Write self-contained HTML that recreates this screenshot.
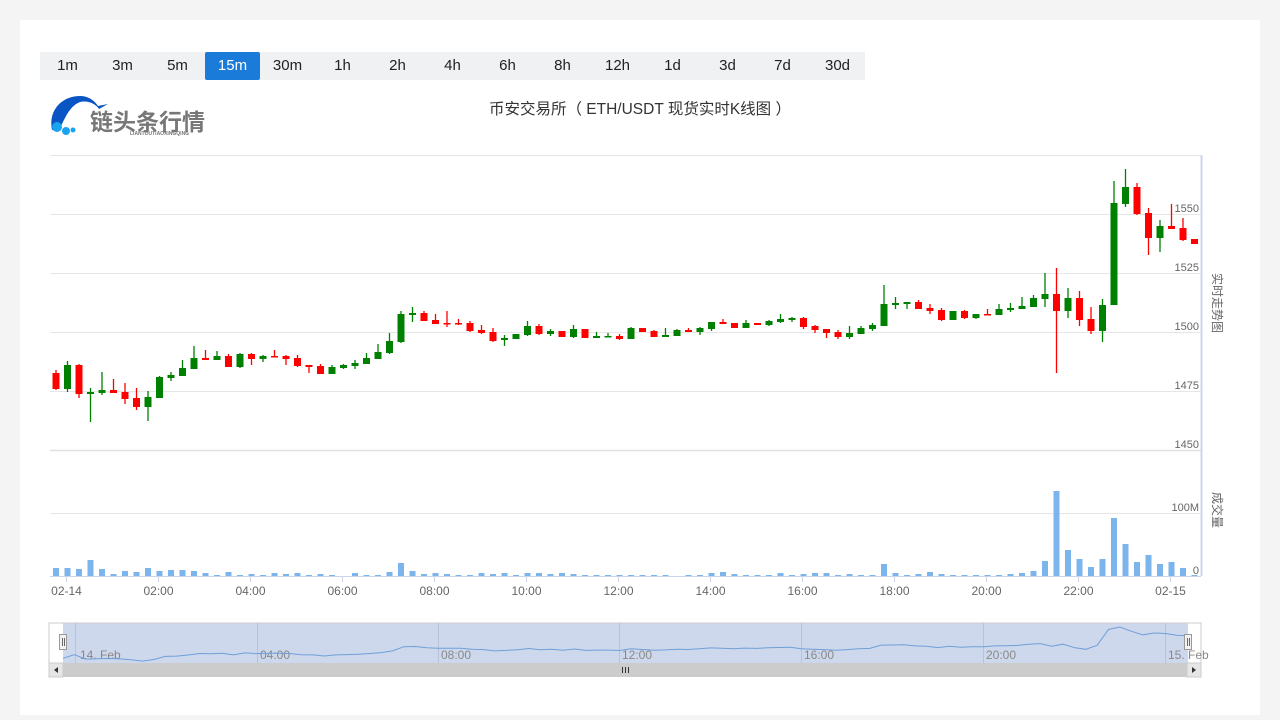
<!DOCTYPE html>
<html><head><meta charset="utf-8">
<style>
body{margin:0;background:#f4f4f4;width:1280px;height:720px;overflow:hidden;font-family:"Liberation Sans","Noto Sans CJK SC",sans-serif;}
#card{position:absolute;left:20px;top:20px;width:1240px;height:695px;background:#fff;}
#tabs{position:absolute;left:40px;top:52px;width:825px;height:28px;background:#f0f1f3;display:flex;}
#tabs div{width:55px;height:28px;line-height:28px;text-align:center;font-size:15px;color:#222;}
#tabs div.on{background:#1a7bd8;color:#fff;border-radius:2px;}
svg{position:absolute;left:0;top:0;}
</style></head><body>
<div id="card"></div>
<div id="tabs"><div>1m</div><div>3m</div><div>5m</div><div class="on">15m</div><div>30m</div><div>1h</div><div>2h</div><div>4h</div><div>6h</div><div>8h</div><div>12h</div><div>1d</div><div>3d</div><div>7d</div><div>30d</div></div>
<svg id="s" width="1280" height="720" xmlns="http://www.w3.org/2000/svg" font-family="Liberation Sans, Noto Sans CJK SC, sans-serif">
<path d="M52,130 C48,110 62,96 80,96 C88,96 94,100 98,106 L108,104 L99,109 C96,104 88,100 80,102 C70,106 66,116 60,128 Z" fill="#0a55c4"/>
<circle cx="57" cy="127" r="5" fill="#1aa3f0"/><circle cx="66" cy="131" r="4" fill="#1aa3f0"/><circle cx="73" cy="130" r="2.5" fill="#1aa3f0"/>
<text x="90" y="130" font-size="23" font-weight="bold" fill="#777" font-family="Noto Sans CJK SC, sans-serif">链头条行情</text>
<text x="130" y="135" font-size="5" fill="#777" font-weight="bold">LIANTOUTIAOXINGQING</text>
<text x="640" y="114" font-size="15.5" fill="#333" text-anchor="middle" font-family="Liberation Sans, Noto Sans CJK SC, sans-serif">币安交易所（ ETH/USDT 现货实时K线图 ）</text>
<g id="g"></g>
</svg>
<script>
var C=[[373,389,370,390],[389,365,361,392],[365,394,364,398],[394,392,388,422],[393,390,372,395],[390,393,379,393],[392,399,383,404],[398,407,388,410],[407,397,391,421],[398,377,376,398],[378,375,372,381],[376,368,360,376],[369,358,346,369],[358,360,350,360],[360,356,351,360],[356,367,354,367],[367,354,353,368],[354,359,353,365],[359,356,355,362],[356,357,350,357],[356,359,355,365],[358,366,355,367],[365,367,365,373],[366,374,364,374],[374,367,365,374],[368,365,364,369],[366,363,360,369],[364,358,353,364],[359,352,344,359],[353,341,333,354],[342,314,311,343],[315,313,307,322],[313,321,311,321],[320,324,314,324],[323,324,311,327],[323,324,319,325],[323,331,321,332],[330,333,325,334],[332,341,328,342],[340,338,335,346],[339,334,334,339],[335,326,321,336],[326,334,324,335],[334,331,329,336],[331,337,331,337],[337,329,325,338],[329,338,329,338],[338,336,332,338],[337,336,333,337],[336,339,334,340],[339,328,327,339],[328,332,328,332],[331,337,330,337],[337,335,328,337],[336,330,329,336],[330,332,328,332],[332,328,327,335],[329,322,322,331],[322,324,319,324],[323,328,323,328],[328,323,320,328],[323,325,323,325],[325,321,320,326],[322,319,314,323],[320,318,317,322],[318,327,317,329],[326,330,325,333],[329,333,329,338],[332,337,330,339],[337,333,326,339],[334,328,326,334],[329,325,323,331],[326,304,285,326],[305,303,297,309],[304,302,302,309],[302,309,300,309],[308,311,304,314],[310,320,308,321],[320,311,311,320],[311,318,310,319],[318,314,314,319],[314,315,309,315],[315,309,304,315],[310,308,303,312],[309,306,297,309],[307,298,295,307],[299,294,273,307],[294,311,268,373],[311,298,288,318],[298,320,291,326],[319,331,307,334],[331,305,299,342],[305,203,181,305],[204,187,169,207],[187,214,183,215],[213,238,208,255],[238,226,220,252],[226,229,204,229],[228,240,218,241],[239,244,239,244]];
var V=[8,8,7,16,7,2,5,4,8,5,6,6,5,3,1,4,1,2,1,3,2,3,1,2,1,0,3,1,1,4,13,5,2,3,2,1,1,3,2,3,1,3,3,2,3,2,1,1,1,1,1,1,1,1,0,1,1,3,4,2,1,1,1,3,1,2,3,3,1,2,1,1,12,3,1,2,4,2,1,1,1,1,1,2,3,5,15,85,26,17,9,17,58,32,14,21,12,14,8,1];
var h='';
function L(x1,y1,x2,y2,c,w){h+='<line x1="'+x1+'" y1="'+y1+'" x2="'+x2+'" y2="'+y2+'" stroke="'+c+'" stroke-width="'+(w||1)+'"/>';}
function T(x,y,t,a,s,c){h+='<text x="'+x+'" y="'+y+'" font-size="'+(s||12)+'" fill="'+(c||'#666')+'" text-anchor="'+(a||'middle')+'">'+t+'</text>';}
[155.5,214.5,273.5,332.5,391.5,513.5].forEach(function(y){L(50,y,1201,y,'#e6e6e6');});
L(50,450.5,1201,450.5,'#e0e0e0',1.5);
L(50,576.5,1201,576.5,'#ccd6eb');
L(1201.5,155,1201.5,576,'#ccd6eb',2);
[['1550',208],['1525',267],['1500',326],['1475',385],['1450',444],['100M',507],['0',570]].forEach(function(a){T(1199,a[1]+4,a[0],'end',11,'#666');});
h+='<text transform="translate(1213,273) rotate(90)" font-size="12" fill="#666">实时走势图</text>';
h+='<text transform="translate(1213,492) rotate(90)" font-size="12" fill="#666">成交量</text>';
var xl=['02-14','02:00','04:00','06:00','08:00','10:00','12:00','14:00','16:00','18:00','20:00','22:00','02-15'];
xl.forEach(function(t,k){var x=66.5+92*k;L(x,576,x,582,'#ccd6eb');T(x,595,t,'middle',12,'#666');});
var N=Math.min(C.length,100);
for(var i=0;i<N;i++){var x=56+11.5*i,c=C[i],o=c[0],cl=c[1],col=cl<o?'#008000':'#ff0000';
 var t=Math.min(o,cl),b=Math.max(o,cl);if(b-t<1.5)b=t+1.5;
 L(x,c[2],x,c[3],col,1.3);
 h+='<rect x="'+(x-3.5)+'" y="'+t+'" width="7" height="'+(b-t)+'" fill="'+col+'"/>';}
for(var i=0;i<100;i++){var x=56+11.5*i;if(V[i]>0)h+='<rect x="'+(x-3)+'" y="'+(576-V[i])+'" width="6" height="'+V[i]+'" fill="#7cb5ec"/>';}
h+='<rect x="49" y="623" width="1152" height="40" fill="#fff" stroke="#ccc"/>';
h+='<rect x="63" y="623.5" width="1125" height="40" fill="#ced8ec"/>';
[75,257,438,619,801,983,1165].forEach(function(x){L(x+0.5,623,x+0.5,663,'#b8c2d8');});
[['14. Feb',80],['04:00',260],['08:00',441],['12:00',622],['16:00',804],['20:00',986],['15. Feb',1168]].forEach(function(a){T(a[1],659,a[0],'start',12,'#888');});
var p='';for(var i=0;i<N;i++){var x=63+i*1125/(N-1),y=627+(C[i][1]-187)*(33/213);p+=(i?'L':'M')+x.toFixed(1)+','+y.toFixed(1);}
h+='<path d="'+p+'" fill="none" stroke="#6f9fd8" stroke-width="1"/>';
h+='<rect x="59.5" y="634.5" width="7" height="15" fill="#f2f2f2" stroke="#999"/>';L(62.5,638,62.5,646,'#666');L(64.5,638,64.5,646,'#666');
h+='<rect x="1184.5" y="634.5" width="7" height="15" fill="#f2f2f2" stroke="#999"/>';L(1187.5,638,1187.5,646,'#666');L(1189.5,638,1189.5,646,'#666');
h+='<rect x="49" y="663" width="1152" height="14" fill="#f2f2f2"/>';
h+='<rect x="63" y="663" width="1124" height="14" fill="#cccccc"/>';
h+='<rect x="49" y="663" width="14" height="14" fill="#e6e6e6" stroke="#ccc"/><path d="M58,667 L54,670 L58,673Z" fill="#333"/>';
h+='<rect x="1187" y="663" width="14" height="14" fill="#e6e6e6" stroke="#ccc"/><path d="M1192,667 L1196,670 L1192,673Z" fill="#333"/>';
L(622.5,667,622.5,673,'#333');L(625.5,667,625.5,673,'#333');L(628.5,667,628.5,673,'#333');
document.getElementById('g').innerHTML=h;
</script>
</body></html>
